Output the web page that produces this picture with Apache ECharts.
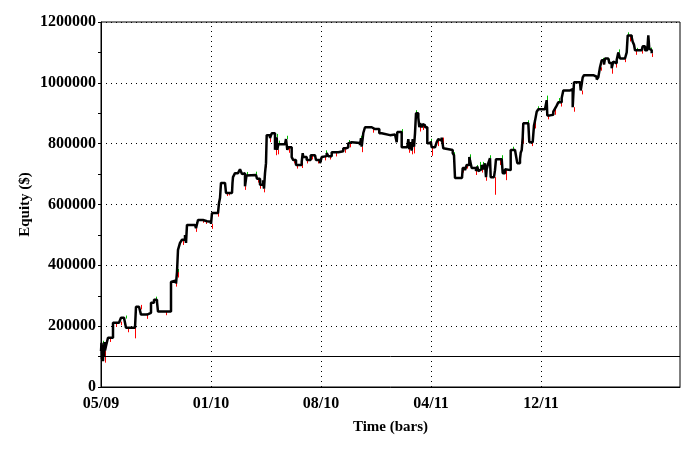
<!DOCTYPE html>
<html>
<head>
<meta charset="utf-8">
<script src="https://cdn.jsdelivr.net/npm/echarts@6/dist/echarts.min.js"></script>
<style>
  html, body { margin: 0; padding: 0; background: #fff; }
  #chart { width: 685px; height: 450px; }
</style>
</head>
<body>
<div id="chart"></div>
<script>
// bar index (x) and closing equity in $ thousands
const barX = [0,0.5,1,1.5,2,2.5,3,3.5,4,5,7,12,18,20,23,25,34,35,38,39,40,46,47,50,53,56,57,70,71,75,76,77,79,81,84,85,86,94,95,97,102,104,106,110,111,117,118,119,120,124,125,131,131.5,132,134,137,139,141,143,144,145.5,147,155,156,159,162,163,164,165,165.7,169,170.7,174,175.7,176.3,177.3,184,185,186.3,187.3,190.7,192.3,195,200.7,201.7,202.3,205.7,209.7,214,215,219,220.7,222.3,225.7,227.3,230.7,237.3,242.3,245,247.3,249,250.7,259,260,260.7,262.3,264,270.7,274,278.3,280.7,289,294,295.7,296.3,300.7,306.3,307.3,308.3,309.7,310.7,311.7,313,314,315,317.3,318.3,319,320.7,321.7,323,324,326.3,329.7,330.7,334,335.7,337.3,339,340.7,342.3,344,351.7,353,354,361,361.7,364,365.7,368.3,369,370.7,375,376.3,377.3,379,380.7,382.3,384,385,385.7,387.3,389,389.7,393,394,395,400.7,401.7,404,405.7,409.7,414,415,416.3,419,419.7,420.7,421.7,422.3,427.3,428.3,431.7,433,434,435.7,437.3,444,445.7,446.3,449,452.3,454,455.7,457.3,460.7,462.3,469,471.7,473,479,479.7,481.7,483,492.3,495.7,497.3,499,500.7,503,504,507.3,508.3,510.7,512.3,514,515.7,517.3,519,524,525.7,526.7,530.7,531.7,533,534,540.7,541.7,544,546.3,547.3,548.3,549.5,550.7];
const equityK = [118,145,92,140,85,135,100,148,120,135,162,211,215,228,225,195,195,264,258,270,238,238,244,277,287,280,248,345,350,340,378,451,474,484,500,474,533,533,522,549,549,545,543,536,572,572,605,621,671,671,638,638,671,690,703,703,716,700,703,660,695,697,697,685,665,680,652,703,736,828,818,834,780,821,780,798,798,815,780,788,756,746,730,740,769,756,746,762,762,746,736,756,759,769,759,772,775,785,788,801,805,802,795,818,790,835,854,848,848,834,828,830,834,805,838,788,788,815,782,805,777,815,790,834,900,885,854,867,854,864,861,854,801,808,788,790,805,815,810,820,785,779,769,762,687,687,720,713,730,756,745,720,710,725,710,716,730,716,735,690,716,736,752,690,690,713,749,745,703,716,713,779,779,760,736,749,770,779,821,867,867,805,805,860,875,905,913,913,943,893,895,905,915,925,936,950,975,979,920,1002,1005,975,1018,1025,1020,1011,1018,1051,1074,1060,1080,1080,1065,1048,1070,1064,1075,1100,1080,1080,1100,1156,1149,1135,1125,1107,1107,1120,1107,1112,1156,1112,1107,1097];

// intrabar lows (red) and highs (green), $ thousands
const lowX = [4.3,8.7,15,19.7,27,33.5,39.7,46.3,56.3,65.3,70.3,74.5,76.5,82,95,101.7,104.7,110.7,117.3,125.7,128.3,144.3,156.7,159,163.3,165.3,169,174.5,177,184.5,188,192.5,195.5,201.3,205.7,210.7,217.3,224,229,235,244,249,260.7,272,277.3,295,308.3,310.7,313,319,321.7,330.7,337.3,341.7,362.3,365.7,375,380.7,385,393.5,399,405,421.9,430.7,434,447.3,454,460,472.5,480.7,499.5,502.3,511,515,524,529,535,540.7,550.7];
const lowK = [80,148,198,203,180,160,255,224,262,236,330,330,360,467,510,540,536,520,560,628,630,648,672,652,640,722,805,762,765,784,770,735,718,720,735,748,735,745,748,758,770,788,772,836,835,806,770,765,768,840,845,760,792,790,705,718,697,705,678,632,730,680,800,792,850,880,895,922,905,962,1040,1060,1030,1050,1068,1136,1092,1096,1085];
const highX = [1.5,24.5,55.3,76.5,94.5,146,155,175.7,178.3,186,225,248.3,260,300.5,315,317.3,329.7,353,369,375.7,379,382.3,389,400.7,412.3,420.2,427.3,437.3,445.9,458.3,501.7,508.3,517.5,527.3,535.7,549.7];
const highK = [152,235,297,388,542,707,708,832,810,826,778,812,826,848,910,895,816,772,765,730,740,740,762,762,790,785,877,923,958,950,1082,1078,1110,1166,1115,1116];

const startEquity = 100000;
const gridX = [0, 110, 220, 330, 440];
const gridLabels = ['05/09', '01/10', '08/10', '04/11', '12/11'];

function levelAt(x) {
  let v = equityK[0];
  for (let i = 0; i < barX.length && barX[i] <= x; i++) v = equityK[i];
  return v * 1000;
}

function wickSeries(xs, vals, color, below) {
  return {
    type: 'custom',
    z: 1,
    silent: true,
    encode: { x: 0, y: 1 },
    data: xs.map((x, i) => [x, vals[i] * 1000]),
    renderItem: function (params, api) {
      const x = api.value(0);
      const tip = api.value(1);
      const lvl = levelAt(x);
      if (below ? tip >= lvl : tip <= lvl) return null;
      const a = api.coord([x, lvl]);
      const b = api.coord([x, tip]);
      const px = Math.round(a[0]) + 0.5;
      return {
        type: 'line',
        shape: { x1: px, y1: a[1], x2: px, y2: b[1] },
        style: { stroke: color, lineWidth: 1 }
      };
    }
  };
}

const font = 'Liberation Serif';
const chart = echarts.init(document.getElementById('chart'));
chart.setOption({
  animation: false,
  backgroundColor: '#fff',
  grid: {
    left: 101, right: 5, top: 22, bottom: 63,
    show: true, borderColor: '#000', borderWidth: 1
  },
  xAxis: {
    type: 'value',
    min: 0, max: 579, interval: 110,
    name: 'Time (bars)',
    nameLocation: 'middle',
    nameGap: 33,
    nameTextStyle: { fontFamily: font, fontWeight: 'bold', fontSize: 15, color: '#000' },
    axisLine: { lineStyle: { color: '#000', width: 1 } },
    axisTick: { show: false },
    splitLine: { show: false },
    axisLabel: {
      margin: 9,
      fontFamily: font, fontWeight: 'bold', fontSize: 16, color: '#000',
      showMaxLabel: false,
      formatter: function (v) {
        const i = gridX.indexOf(v);
        return i >= 0 ? gridLabels[i] : '';
      }
    }
  },
  yAxis: {
    type: 'value',
    min: 0, max: 1200000, interval: 200000,
    name: 'Equity ($)',
    nameLocation: 'middle',
    nameRotate: 90,
    nameGap: 68,
    nameMoveOverlap: false,
    nameTextStyle: { fontFamily: font, fontWeight: 'bold', fontSize: 15, color: '#000' },
    axisLine: { show: true, lineStyle: { color: '#000', width: 1 } },
    axisTick: { show: true, length: 3, lineStyle: { color: '#000' } },
    minorTick: { show: true, splitNumber: 2, length: 3, lineStyle: { color: '#000' } },
    splitLine: { show: true, lineStyle: { color: '#000', width: 1, type: [1, 4] } },
    axisLabel: {
      margin: 5,
      fontFamily: font, fontWeight: 'bold', fontSize: 16, color: '#000',
      formatter: function (v) { return String(v); }
    }
  },
  series: [
    wickSeries(lowX, lowK, '#ff0000', true),
    wickSeries(highX, highK, '#00c000', false),
    {
      type: 'line',
      z: 3,
      step: 'end',
      showSymbol: false,
      silent: true,
      data: barX.map((x, i) => [x, equityK[i] * 1000]),
      lineStyle: { color: '#000', width: 2.5, join: 'bevel', cap: 'butt' },
      markLine: {
        silent: true,
        symbol: 'none',
        label: { show: false },
        data: gridX.slice(1).map(v => ({
          xAxis: v,
          lineStyle: { color: '#000', width: 1, type: [1, 4] }
        })).concat([{
          yAxis: startEquity,
          lineStyle: { color: '#000', width: 1, type: 'solid' }
        }])
      }
    }
  ]
});
</script>
</body>
</html>
